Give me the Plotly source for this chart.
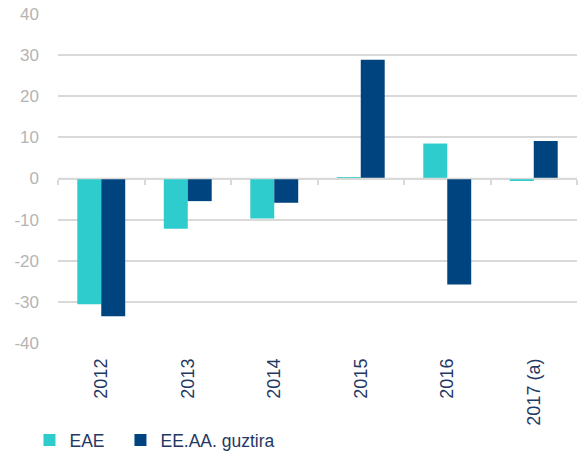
import plotly.graph_objects as go

categories = ["2012", "2013", "2014", "2015", "2016", "2017 (a)"]
eae = [-30.6, -12.2, -9.7, 0.2, 8.5, -0.6]
eeaa = [-33.5, -5.5, -5.9, 28.9, -25.8, 9.1]
y_ticks = [-40, -30, -20, -10, 0, 10, 20, 30, 40]
y_tick_text = [str(v) for v in y_ticks]

TEAL = "#2ECCCC"
NAVY = "#00447F"
TXT = "#1F3864"
GRID = "#D9D9D9"
FONT = "Liberation Sans, Arial, sans-serif"

fig = go.Figure()
fig.add_trace(go.Bar(x=categories, y=eae, name="EAE", marker_color=TEAL,
                     marker_line_width=0, legendwidth=46))
fig.add_trace(go.Bar(x=categories, y=eeaa, name="EE.AA. guztira", marker_color=NAVY,
                     marker_line_width=0))

# axis line at zero with boundary ticks
fig.add_trace(go.Scatter(x=[-0.5, 5.5], y=[0, 0], xaxis="x2", mode="lines",
                         line=dict(color=GRID, width=1.5), showlegend=False,
                         hoverinfo="skip"))

fig.update_layout(
    width=579, height=454,
    margin=dict(l=57.5, r=2, t=14, b=111, autoexpand=False),
    paper_bgcolor="white", plot_bgcolor="white",
    font=dict(family=FONT, size=17, color=TXT),
    barmode="group", bargap=0.446, bargroupgap=0,
    xaxis=dict(type="category", categoryorder="array", categoryarray=categories,
               range=[-0.5, 5.5], showgrid=False, zeroline=False, showline=False,
               tickangle=-90, ticks="", ticklabelstandoff=11, automargin=False,
               tickfont=dict(family=FONT, size=18, color=TXT)),
    xaxis2=dict(overlaying="x", anchor="free", position=0.5, range=[-0.5, 5.5],
                tickvals=[-0.5, 0.5, 1.5, 2.5, 3.5, 4.5, 5.5], ticks="outside",
                ticklen=5, tickwidth=1.5, tickcolor=GRID, showticklabels=False,
                showgrid=False, zeroline=False, showline=False, automargin=False),
    yaxis=dict(range=[-40, 40], tickvals=y_ticks, ticktext=y_tick_text,
               showgrid=True, gridcolor=GRID,
               gridwidth=1.5, zeroline=False, showline=False, ticks="",
               ticklabelstandoff=18, automargin=False,
               tickfont=dict(family=FONT, size=17, color="#B4B4B4")),
    legend=dict(orientation="h", x=-0.055, xanchor="left", y=-0.295, yanchor="middle",
                font=dict(family=FONT, size=17.5, color=TXT), itemwidth=30,
                traceorder="normal"),
    showlegend=True,
)

fig.write_html("out.html", config={"displayModeBar": False},
               post_script="document.body.style.margin='0';document.body.style.overflow='hidden';")
